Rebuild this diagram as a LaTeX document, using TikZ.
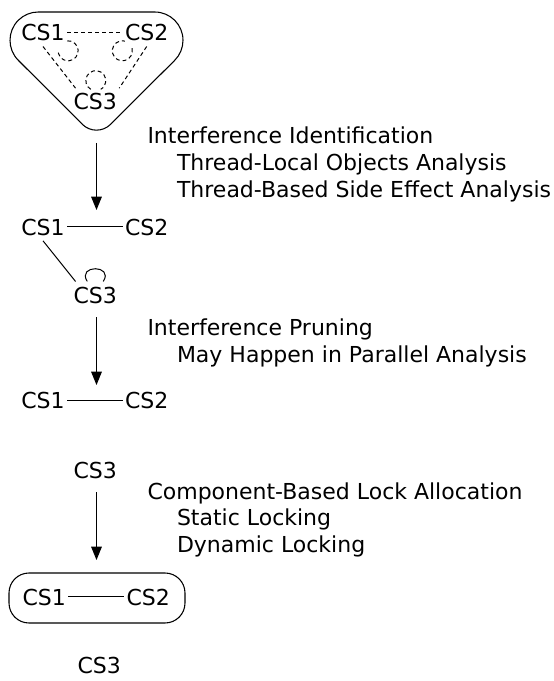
\documentclass[tikz,border=0pt]{standalone}
\usepackage{fontspec}
\setmainfont{DejaVu Sans}
\usetikzlibrary{arrows.meta,calc}
\begin{document}
\begin{tikzpicture}[x=0.75pt,y=-0.75pt, line width=0.75pt,
  cs/.style={inner xsep=1.5pt, inner ysep=3.75pt, anchor=base, font=\fontsize{16.5}{20}\selectfont},
  lbl/.style={inner sep=0pt, anchor=base west, font=\fontsize{16.5}{20}\selectfont},
  arr/.style={-{Triangle[length=10pt,width=8pt]}},
  dsh/.style={dash pattern=on 3pt off 2.25pt},
  frame/.style={line width=0.8pt}]
\useasboundingbox (0,0) rectangle (553,681);

% ---- group 1 ----
\draw[frame] (38.3,12) -- (154.7,12) arc[start angle=270, end angle=405, radius=28.3]
  -- (110.6,124.3) arc[start angle=45, end angle=135, radius=20]
  -- (18.3,60.3) arc[start angle=135, end angle=270, radius=28.3] -- cycle;
\node[cs] (c1) at (43,40.7) {CS1};
\node[cs] (c2) at (146.7,40.7) {CS2};
\node[cs] (c3) at (95.3,110) {CS3};
\draw[dsh] (c1) -- (c2);
\draw[dsh] (c1.south) -- (c3.145);
\draw[dsh] (c2.south) -- (c3.30);
\draw[dsh] ($(c1.south east)+(1,4.3)$) ++(265:10) arc[start angle=265, end angle=545, radius=10];
\draw[dsh] ($(c2.south west)+(-0.2,4.3)$) ++(345:10) arc[start angle=345, end angle=645, radius=10];
\draw[dsh] ($(c3.north)+(0.5,-7.5)$) ++(120:10) arc[start angle=120, end angle=420, radius=10];

\coordinate (a1s) at (96.5,143);
\coordinate (a1e) at (96.5,210);
\draw[arr] (a1s) -- (a1e);
\node[lbl] (t11) at (147,144) {Interference Identification};
\node[lbl] (t12) at (176.5,170.5) {Thread-Local Objects Analysis};
\node[lbl] (t13) at (176.5,197) {Thread-Based Side Effect Analysis};

% ---- group 2 ----
\node[cs] (d1) at (43,235) {CS1};
\node[cs] (d2) at (146.7,235) {CS2};
\node[cs] (d3) at (95.3,303.3) {CS3};
\draw (d1) -- (d2);
\draw (d1.south) -- (d3.145);
\draw ($(d3.north)+(-8,0)$) .. controls +(-11,-17) and +(11,-17) .. ($(d3.north)+(8,0)$);

\coordinate (a2s) at (96.5,317);
\coordinate (a2e) at (96.5,385);
\draw[arr] (a2s) -- (a2e);
\node[lbl] (t21) at (147,335) {Interference Pruning};
\node[lbl] (t22) at (176.5,362) {May Happen in Parallel Analysis};

% ---- group 3 ----
\node[cs] (e1) at (43,408.3) {CS1};
\node[cs] (e2) at (146.7,408.3) {CS2};
\node[cs] (e3) at (95.3,478.3) {CS3};
\draw (e1) -- (e2);

\coordinate (a3s) at (96.5,492);
\coordinate (a3e) at (96.5,560);
\draw[arr] (a3s) -- (a3e);
\node[lbl] (t31) at (147,499) {Component-Based Lock Allocation};
\node[lbl] (t32) at (176.5,525.5) {Static Locking};
\node[lbl] (t33) at (176.5,552) {Dynamic Locking};

% ---- group 4 ----
\draw[frame, rounded corners=15pt] (9,573) rectangle (185,623);
\node[cs] (f1) at (44.2,605) {CS1};
\node[cs] (f2) at (148.3,605) {CS2};
\node[cs] (f3) at (99.2,673.3) {CS3};
\draw (f1) -- (f2);
\end{tikzpicture}
\end{document}
